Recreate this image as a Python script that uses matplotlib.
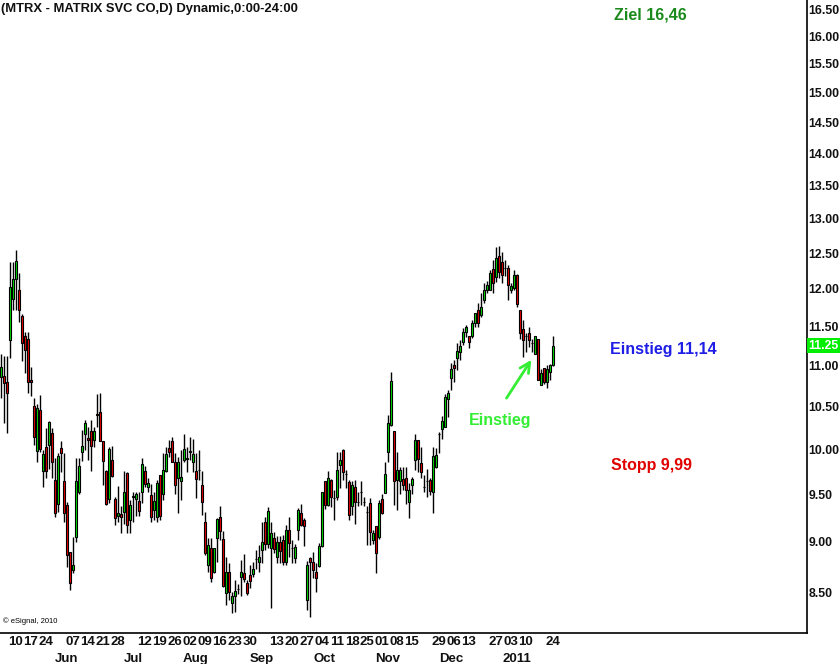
import numpy as np
import pandas as pd
import matplotlib
matplotlib.use("Agg")
import matplotlib.pyplot as plt
from matplotlib.ticker import FixedLocator, NullLocator

plt.rcParams['font.family'] = ['Liberation Sans', 'DejaVu Sans']

# ---- data -------------------------------------------------------------
holidays = ['2010-05-31', '2010-07-05', '2010-09-06', '2010-11-25', '2010-12-24', '2011-01-17']
dates = pd.bdate_range('2010-05-03', '2011-01-24')
dates = dates[~dates.isin(pd.to_datetime(holidays))]

opens = [10.85, 10.87, 10.80, 11.32, 11.86, 12.13, 11.98, 11.64, 11.38, 11.33,
         10.82, 10.50, 9.98, 10.45, 9.76, 10.02, 10.05, 10.19, 9.66, 9.40,
         10.01, 9.64, 9.38, 8.90, 8.72, 9.05, 9.52, 9.97, 10.17, 10.13,
         10.21, 10.11, 10.41, 10.43, 10.09, 9.75, 9.45, 9.88, 9.45, 9.27,
         9.29, 9.31, 9.73, 9.23, 9.47, 9.45, 9.43, 9.52, 9.76, 9.58,
         9.49, 9.33, 9.26, 9.71, 9.50, 9.76, 10.01, 10.09, 9.86, 9.68,
         9.64, 9.88, 9.89, 9.97, 9.85, 9.76, 9.77, 9.60, 9.21, 8.77,
         8.94, 8.70, 9.04, 9.26, 9.03, 8.49, 8.70, 8.39, 8.46, 8.53,
         8.65, 8.69, 8.59, 8.67, 8.68, 8.83, 8.80, 8.92, 9.21, 8.98,
         8.94, 9.04, 8.85, 9.00, 9.02, 8.80, 9.12, 8.94, 8.84, 9.12,
         9.30, 9.23, 8.42, 8.84, 8.80, 8.70, 8.76, 8.96, 9.64, 9.38,
         9.66, 9.46, 9.47, 9.82, 9.99, 9.72, 9.63, 9.37, 9.58, 9.42,
         9.52, 9.42, 9.31, 9.41, 9.02, 9.16, 9.05, 9.45, 9.51, 9.97,
         10.28, 10.21, 9.66, 9.65, 9.67, 9.68, 9.42, 9.60, 9.88, 10.10,
         9.84, 9.58, 9.65, 9.66, 9.52, 9.80, 10.17, 10.23, 10.25, 10.59,
         10.84, 11.01, 11.09, 11.17, 11.30, 11.43, 11.37, 11.37, 11.54, 11.71,
         11.65, 11.85, 11.99, 11.99, 12.27, 12.17, 12.46, 12.37, 12.29, 12.29,
         11.98, 12.01, 12.19, 11.71, 11.46, 11.38, 11.41, 11.29, 11.15, 11.33,
         10.76, 10.97, 10.79, 10.92, 11.01]
highs = [11.15, 11.12, 11.12, 12.37, 12.37, 12.54, 12.22, 11.66, 11.42, 11.42,
         10.98, 10.60, 10.53, 10.63, 9.99, 10.24, 10.33, 10.24, 9.90, 9.96,
         10.09, 9.96, 9.42, 8.90, 9.05, 9.90, 9.90, 10.22, 10.34, 10.25,
         10.34, 10.25, 10.65, 10.66, 10.09, 9.77, 10.02, 10.04, 9.47, 9.59,
         9.37, 9.75, 9.74, 9.44, 9.52, 9.52, 9.52, 9.90, 9.81, 9.68,
         9.61, 9.52, 9.66, 9.71, 9.96, 10.02, 10.10, 10.14, 9.96, 9.91,
         9.99, 10.18, 10.02, 10.14, 10.12, 9.96, 9.99, 9.76, 9.31, 9.04,
         9.04, 8.94, 9.25, 9.37, 9.11, 8.85, 8.79, 8.50, 8.62, 8.58,
         8.82, 8.88, 8.62, 8.77, 8.80, 8.92, 8.97, 9.20, 9.26, 9.36,
         9.20, 9.10, 9.06, 9.06, 9.07, 9.17, 9.26, 9.02, 8.98, 9.35,
         9.40, 9.25, 8.81, 8.85, 8.90, 8.79, 8.99, 9.53, 9.65, 9.75,
         9.67, 9.55, 9.97, 9.97, 10.00, 9.77, 9.66, 9.64, 9.66, 9.53,
         9.64, 9.47, 9.37, 9.46, 9.12, 9.16, 9.44, 9.50, 9.86, 10.40,
         10.92, 10.21, 9.97, 9.80, 9.80, 9.80, 9.62, 9.69, 10.17, 10.10,
         10.03, 9.71, 9.78, 9.68, 10.02, 10.01, 10.20, 10.39, 10.65, 10.70,
         11.03, 11.07, 11.29, 11.32, 11.48, 11.52, 11.38, 11.58, 11.68, 11.81,
         11.94, 12.08, 12.11, 12.26, 12.40, 12.58, 12.60, 12.52, 12.40, 12.33,
         12.08, 12.26, 12.20, 11.71, 11.58, 11.41, 11.49, 11.34, 11.38, 11.34,
         10.96, 10.97, 11.00, 11.02, 11.38]
lows = [10.60, 10.30, 10.19, 11.09, 11.71, 11.71, 11.56, 11.05, 10.91, 10.66,
        10.62, 10.05, 9.86, 9.97, 9.58, 9.68, 9.78, 9.68, 9.26, 9.31,
        9.74, 9.20, 8.75, 8.52, 8.69, 9.00, 9.50, 9.87, 9.99, 9.88,
        9.76, 10.02, 10.25, 10.09, 9.60, 9.38, 9.41, 9.69, 9.17, 9.21,
        9.09, 9.18, 9.09, 9.09, 9.21, 9.27, 9.27, 9.41, 9.58, 9.52,
        9.20, 9.23, 9.21, 9.23, 9.44, 9.74, 9.91, 9.85, 9.50, 9.30,
        9.44, 9.85, 9.74, 9.88, 9.74, 9.46, 9.66, 9.28, 8.87, 8.70,
        8.60, 8.69, 8.80, 9.02, 8.55, 8.38, 8.42, 8.30, 8.31, 8.48,
        8.46, 8.60, 8.47, 8.54, 8.65, 8.73, 8.70, 8.79, 8.92, 8.94,
        8.35, 8.89, 8.79, 8.79, 8.77, 8.77, 8.85, 8.79, 8.79, 9.02,
        9.16, 8.96, 8.33, 8.26, 8.64, 8.50, 8.75, 8.95, 9.34, 9.37,
        9.36, 9.23, 9.44, 9.57, 9.66, 9.57, 9.23, 9.28, 9.18, 9.37,
        9.38, 9.37, 8.97, 8.97, 8.98, 8.69, 9.03, 9.29, 9.51, 9.86,
        10.27, 9.39, 9.33, 9.50, 9.55, 9.40, 9.25, 9.50, 9.77, 9.74,
        9.68, 9.52, 9.47, 9.49, 9.30, 9.79, 9.96, 10.12, 10.25, 10.37,
        10.70, 10.80, 10.94, 11.07, 11.26, 11.36, 11.22, 11.35, 11.49, 11.49,
        11.62, 11.81, 11.94, 11.98, 11.94, 12.10, 12.15, 12.08, 12.18, 11.85,
        11.95, 11.98, 11.76, 11.34, 11.10, 11.17, 11.23, 11.17, 11.15, 10.82,
        10.76, 10.77, 10.72, 10.82, 10.99]
closes = [10.98, 10.78, 10.66, 12.03, 12.13, 12.39, 11.72, 11.28, 11.20, 10.80,
          10.80, 10.14, 10.48, 10.00, 9.94, 9.76, 10.32, 9.85, 9.30, 9.92,
          9.96, 9.30, 8.87, 8.59, 8.77, 9.65, 9.81, 10.04, 10.30, 10.11,
          10.04, 10.21, 10.40, 10.09, 9.87, 9.40, 10.00, 9.70, 9.25, 9.30,
          9.26, 9.53, 9.17, 9.38, 9.48, 9.50, 9.32, 9.83, 9.61, 9.62,
          9.26, 9.43, 9.62, 9.27, 9.77, 9.94, 9.97, 9.86, 9.60, 9.85,
          9.69, 10.00, 9.90, 9.98, 9.95, 9.67, 9.77, 9.42, 8.89, 8.97,
          8.64, 8.94, 9.24, 9.11, 8.56, 8.70, 8.50, 8.46, 8.51, 8.53,
          8.70, 8.63, 8.49, 8.61, 8.73, 8.83, 8.85, 9.00, 8.98, 9.32,
          9.09, 8.93, 9.00, 8.91, 8.80, 9.12, 8.99, 8.94, 8.95, 9.33,
          9.17, 9.16, 8.77, 8.80, 8.72, 8.64, 8.96, 9.52, 9.38, 9.68,
          9.47, 9.46, 9.77, 9.88, 9.74, 9.72, 9.28, 9.60, 9.42, 9.42,
          9.52, 9.42, 9.31, 9.10, 9.09, 8.89, 9.41, 9.30, 9.72, 10.30,
          10.81, 9.64, 9.77, 9.77, 9.60, 9.55, 9.55, 9.67, 10.10, 9.89,
          9.74, 9.58, 9.65, 9.54, 9.92, 9.93, 10.17, 10.33, 10.61, 10.66,
          10.96, 10.97, 11.18, 11.24, 11.43, 11.49, 11.30, 11.55, 11.67, 11.54,
          11.75, 11.99, 12.06, 12.22, 12.08, 12.43, 12.23, 12.19, 12.29, 12.05,
          12.04, 12.19, 11.79, 11.41, 11.32, 11.38, 11.32, 11.29, 11.37, 10.82,
          10.90, 10.80, 10.96, 11.01, 11.25]

ytick_values = [8.5, 9.0, 9.5, 10.0, 10.5, 11.0, 11.5, 12.0, 12.5, 13.0,
                13.5, 14.0, 14.5, 15.0, 15.5, 16.0, 16.5]
tick_dates = ['2010-05-10', '2010-05-17', '2010-05-24', '2010-06-07', '2010-06-14',
              '2010-06-21', '2010-06-28', '2010-07-12', '2010-07-19', '2010-07-26',
              '2010-08-02', '2010-08-09', '2010-08-16', '2010-08-23', '2010-08-30',
              '2010-09-13', '2010-09-20', '2010-09-27', '2010-10-04', '2010-10-11',
              '2010-10-18', '2010-10-25', '2010-11-01', '2010-11-08', '2010-11-15',
              '2010-11-29', '2010-12-06', '2010-12-13', '2010-12-27', '2011-01-03',
              '2011-01-10', '2011-01-24']
month_labels = ['Jun', 'Jul', 'Aug', 'Sep', 'Oct', 'Nov', 'Dec', '2011']
month_starts = ['2010-06', '2010-07', '2010-08', '2010-09', '2010-10', '2010-11', '2010-12', '2011-01']

title = '(MTRX - MATRIX SVC CO,D) Dynamic,0:00-24:00'
target_price, entry_price, stop_price = 16.46, 11.14, 9.99

# ---- figure -----------------------------------------------------------
fig = plt.figure(figsize=(8.4, 6.64), dpi=100, facecolor='white')
ax = fig.add_axes([0.0, 31 / 664, 807 / 840, 633 / 664])
ax.set_facecolor('white')

x = np.arange(len(dates))
o = np.array(opens); h = np.array(highs); l = np.array(lows); c = np.array(closes)
up = c >= o
green = '#00e000'
red = '#ee0000'

ax.vlines(x, l, h, color='black', linewidth=1.0, zorder=2)
bottoms = np.minimum(o, c)
heights = np.abs(c - o)
ax.bar(x, heights, bottom=bottoms, width=0.8,
       color=np.where(up, green, red), edgecolor='black', linewidth=0.8, zorder=3)

ax.set_yscale('log')
ax.set_ylim(8.113, 16.67)
ax.set_xlim(-0.33, 268.67)

ax.yaxis.tick_right()
ax.yaxis.set_major_locator(FixedLocator(ytick_values))
ax.yaxis.set_minor_locator(NullLocator())
ax.set_yticklabels([f'{v:.2f}' for v in ytick_values])
ax.tick_params(axis='y', length=0, pad=1, labelsize=8.8, labelcolor='#111111')
for t in ax.get_yticklabels():
    t.set_fontweight('bold')

pos = {d: i for i, d in enumerate(dates)}
xt = [pos[pd.Timestamp(d)] for d in tick_dates]
ax.set_xticks(xt)
ax.set_xticklabels([d[-2:] for d in tick_dates])
ax.tick_params(axis='x', length=0, pad=2, labelsize=9.5, labelcolor='#111111')
for t in ax.get_xticklabels():
    t.set_fontweight('bold')

# month labels (second row)
for lab, ms in zip(month_labels, month_starts):
    first = np.where(dates.strftime('%Y-%m') == ms)[0][0]
    ax.text(first + 2, -26 / 633, lab, transform=ax.get_xaxis_transform(),
            ha='center', va='center', fontsize=9.5, fontweight='bold', color='#111111')

for s in ['left', 'top']:
    ax.spines[s].set_visible(False)
for s in ['right', 'bottom']:
    ax.spines[s].set_linewidth(1.2)
    ax.spines[s].set_color('black')

# last price marker
ax.annotate(f'{closes[-1]:.2f}', xy=(1.0, closes[-1]), xycoords=('axes fraction', 'data'),
            xytext=(1, 0), textcoords='offset points', ha='left', va='center',
            fontsize=8.8, fontweight='bold', color='white', annotation_clip=False,
            bbox=dict(boxstyle='square,pad=0.15', facecolor='#00ee00', edgecolor='none'))

# annotations
ax.text(204.3, 16.38, f'Ziel {target_price:.2f}'.replace('.', ','), fontsize=11.5,
        color='#1a8a1a', ha='left', va='center', fontweight='bold')
ax.text(203.0, 11.20, f'Einstieg {entry_price:.2f}'.replace('.', ','), fontsize=11.5,
        color='#1e1ee6', ha='left', va='center', fontweight='bold')
ax.text(203.3, 9.82, f'Stopp {stop_price:.2f}'.replace('.', ','), fontsize=11.5,
        color='#e00000', ha='left', va='center', fontweight='bold')

ax.annotate('', xy=(177.3, 11.10), xytext=(168.0, 10.57),
            arrowprops=dict(arrowstyle='->', color='#33ee33', lw=2.0,
                            mutation_scale=18))
ax.text(166.3, 10.33, 'Einstieg', fontsize=11.5, color='#33ee33', ha='center',
        va='center', fontweight='bold')

ax.text(0.004, 12 / 633, '\u00a9 eSignal, 2010', transform=ax.transAxes,
        fontsize=5.5, color='black', ha='left', va='center')

fig.text(0.001, 1 - 9 / 664, title, ha='left', va='center', fontsize=9.4,
         fontweight='bold', color='#111111')

fig.savefig('out.png', dpi=100, facecolor='white')
